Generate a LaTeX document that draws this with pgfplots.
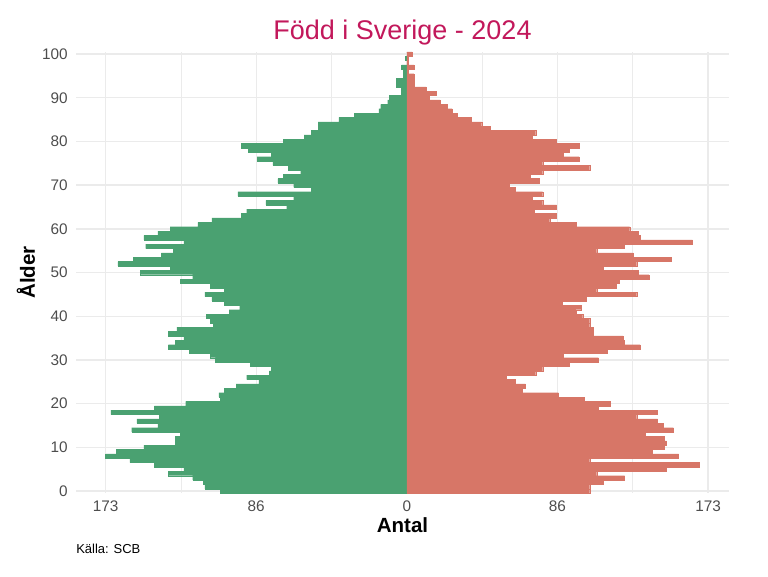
\documentclass[border=0pt]{standalone}
\usepackage{fontspec}
\setmainfont{Liberation Sans}
\usepackage{pgfplots}
\pgfplotsset{compat=1.18}
\definecolor{mgreen}{HTML}{4AA171}
\definecolor{fred}{HTML}{D77667}
\definecolor{ttl}{HTML}{C2185B}
\definecolor{tickc}{HTML}{4D4D4D}
\definecolor{grd}{HTML}{EBEBEB}
\begin{document}
\begin{tikzpicture}
\useasboundingbox (0,0) rectangle (576pt,432pt);
\begin{axis}[
  at={(57pt,62.1pt)}, anchor=south west,
  scale only axis, width=489.75pt, height=331pt,
  xmin=-190, xmax=185, ymin=-0.5, ymax=100.5,
  clip=false,
  xtick={-173,-86.5,0,86.5,173}, xticklabels={173,86,0,86,173},
  minor xtick={-129.75,-43.25,43.25,129.75},
  ytick={0,10,...,100},
  grid=both,
  major grid style={grd, line width=1pt},
  minor grid style={grd, line width=0.55pt},
  axis line style={draw=none},
  major tick length=0pt, minor tick length=0pt,
  tick style={draw=none},
  /pgf/number format/assume math mode=true,
  ticklabel style={font=\fontsize{11.5}{13}\selectfont, text=tickc},
  xticklabel style={anchor=north, inner sep=0pt, yshift=-5.5pt},
  yticklabel style={anchor=east, inner sep=0pt, xshift=-6pt},
  xlabel={Antal},
  xlabel style={font=\bfseries\fontsize{15.4}{18}\selectfont, at={(axis description cs:0.5,-0.088)}, anchor=base, inner sep=0pt},
  ylabel={Ålder},
  ylabel style={font=\bfseries\fontsize{15.4}{18}\selectfont, at={(axis description cs:-0.0628,0.5)}, anchor=base, inner sep=0pt},
  title={Född i Sverige - 2024},
  title style={font=\fontsize{20.25}{24}\selectfont, text=ttl, at={(axis description cs:0.5,1.011)}, anchor=base, inner sep=0pt},
]
\addplot[xbar, bar width=1, bar shift=0pt, fill=mgreen, draw=mgreen, line width=0.2pt] coordinates {
(-107,0) (-116,1) (-117,2) (-123,3) (-137,4) (-128,5) (-145,6) (-159,7) (-173,8) (-167,9)
(-151,10) (-133,11) (-133,12) (-130,13) (-158,14) (-143,15) (-155,16) (-142,17) (-170,18) (-145,19)
(-127,20) (-107,21) (-108,22) (-105,23) (-98,24) (-85,25) (-92,26) (-79,27) (-78,28) (-90,29)
(-110,30) (-113,31) (-125,32) (-137,33) (-133,34) (-128,35) (-137,36) (-132,37) (-111,38) (-113,39)
(-115,40) (-102,41) (-96,42) (-105,43) (-112,44) (-116,45) (-105,46) (-113,47) (-130,48) (-123,49)
(-153,50) (-136,51) (-166,52) (-157,53) (-141,54) (-134,55) (-150,56) (-128,57) (-151,58) (-143,59)
(-136,60) (-120,61) (-112,62) (-95,63) (-92,64) (-69,65) (-81,66) (-65,67) (-97,68) (-55,69)
(-65,70) (-74,71) (-71,72) (-61,73) (-68,74) (-77,75) (-86,76) (-78,77) (-91,78) (-95,79)
(-71,80) (-59,81) (-55,82) (-51,83) (-51,84) (-39,85) (-30,86) (-16,87) (-15,88) (-11,89)
(-10,90) (-3,91) (-3,92) (-6,93) (-6,94) (-2,95) (-2,96) (-3,97) (-1,99)
};
\addplot[xbar, bar width=1, bar shift=0pt, fill=fred, draw=fred, line width=0.2pt] coordinates {
(105,0) (105,1) (113,2) (125,3) (109,4) (149,5) (168,6) (105,7) (156,8) (141,9)
(148,10) (149,11) (148,12) (137,13) (153,14) (147,15) (144,16) (132,17) (144,18) (110,19)
(117,20) (102,21) (87,22) (66,23) (68,24) (62,25) (57,26) (74,27) (78,28) (93,29)
(110,30) (90,31) (115,32) (134,33) (125,34) (124,35) (107,36) (107,37) (105,38) (105,39)
(101,40) (97,41) (100,42) (89,43) (103,44) (132,45) (109,46) (120,47) (122,48) (139,49)
(133,50) (113,51) (132,52) (152,53) (130,54) (109,55) (125,56) (164,57) (134,58) (133,59)
(128,60) (97,61) (82,62) (86,63) (73,64) (86,65) (78,66) (72,67) (78,68) (62,69)
(59,70) (76,71) (71,72) (78,73) (105,74) (78,75) (99,76) (90,77) (93,78) (99,79)
(86,80) (72,81) (74,82) (48,83) (43,84) (37,85) (29,86) (26,87) (23,88) (19,89)
(13,90) (17,91) (11,92) (4,93) (4,94) (4,95) (1,96) (4,97) (1,98) (1,99) (3,100)
};
\node[anchor=base west, inner sep=0pt, font=\fontsize{9.75}{11}\selectfont] at (axis description cs:0,-0.1377) {Källa: SCB};
\end{axis}
\end{tikzpicture}
\end{document}
